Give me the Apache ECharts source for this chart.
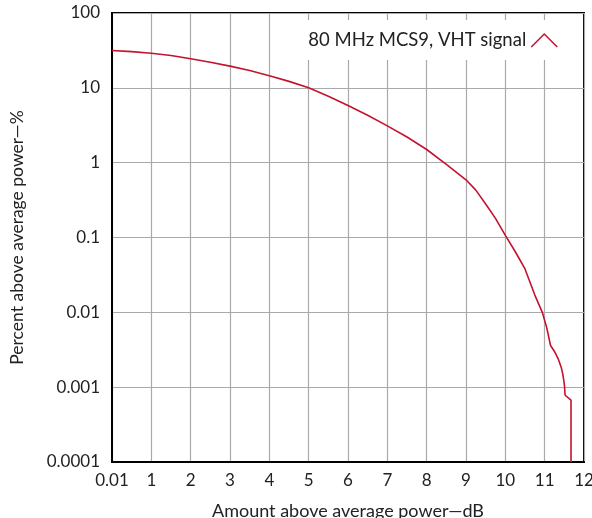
<!DOCTYPE html>
<html>
<head>
<meta charset="utf-8">
<script src="https://cdn.jsdelivr.net/npm/echarts@6/dist/echarts.min.js"></script>
<style>html,body{margin:0;padding:0;background:#fff}#c{width:592px;height:518px}</style>
</head>
<body>
<div id="c"></div>
<script>
const seriesName = '80 MHz MCS9, VHT signal';
const xValues = [0, 0.5, 1, 1.5, 2, 2.5, 3, 3.5, 4, 4.5, 5, 5.5, 6, 6.5, 7, 7.5, 8, 8.5, 9, 9.25, 9.5, 9.75, 10, 10.25, 10.5, 10.75, 10.94, 11.05, 11.15, 11.25, 11.35, 11.42, 11.46, 11.5, 11.52, 11.67, 11.67];
const yValues = [31.5, 30.5, 29, 27, 24.5, 22, 19.5, 17, 14.5, 12.2, 10, 7.7, 5.8, 4.3, 3.1, 2.2, 1.5, 0.95, 0.59, 0.43, 0.28, 0.18, 0.107, 0.065, 0.038, 0.017, 0.01, 0.0063, 0.0036, 0.003, 0.00235, 0.00185, 0.0015, 0.0011, 0.00078, 0.00067, 0.0001];
const yTickLabels = ['0.0001', '0.001', '0.01', '0.1', '1', '10', '100'];
const xFirstLabel = '0.01';

const FONT = 'Lato';
const RED = '#c41230';
const chart = echarts.init(document.getElementById('c'));
chart.setOption({
  animation: false,
  textStyle: { fontFamily: FONT },
  grid: { left: 112, right: 8, top: 13, bottom: 56, outerBoundsMode: 'none', containLabel: false,
    show: true, borderColor: '#000', borderWidth: 2, backgroundColor: 'transparent' },
  legend: {
    data: [seriesName], right: 12, top: 20, align: 'right',
    backgroundColor: '#fff', padding: [11, 22, 10, 14], itemGap: 10,
    icon: 'path://M0,13L13,0L26,13', itemWidth: 26, itemHeight: 13,
    itemStyle: { color: 'rgba(0,0,0,0)', borderColor: RED, borderWidth: 1.5 },
    textStyle: { fontFamily: FONT, fontSize: 18.5, color: '#222', padding: [0, 0, 0, 0] }
  },
  xAxis: {
    type: 'value', min: 0, max: 12, interval: 1,
    name: 'Amount above average power\u2014dB', nameLocation: 'middle', nameGap: 40,
    nameTextStyle: { fontFamily: FONT, fontSize: 18, color: '#222' },
    axisLine: { show: true, lineStyle: { color: '#000', width: 2 } },
    axisTick: { show: false },
    axisLabel: { fontFamily: FONT, fontSize: 17, color: '#222', margin: 10,
      formatter: v => v === 0 ? xFirstLabel : String(v) },
    splitLine: { show: true, lineStyle: { color: '#aaa', width: 1.2 } }
  },
  yAxis: {
    type: 'log', logBase: 10, min: 0.0001, max: 100,
    name: 'Percent above average power\u2014%', nameLocation: 'middle', nameGap: 86,
    nameTextStyle: { fontFamily: FONT, fontSize: 17.5, color: '#222' },
    axisLine: { show: true, lineStyle: { color: '#000', width: 2 } },
    axisTick: { show: false },
    axisLabel: { fontFamily: FONT, fontSize: 17, color: '#222', margin: 12,
      formatter: v => yTickLabels[Math.round(Math.log10(v)) + 4] },
    splitLine: { show: true, lineStyle: { color: '#aaa', width: 1.2 } }
  },
  series: [{
    name: seriesName, type: 'line', showSymbol: false, symbol: 'none',
    color: RED, lineStyle: { color: RED, width: 1.6 },
    data: xValues.map((x, i) => [x, yValues[i]])
  }]
});
</script>
</body>
</html>
